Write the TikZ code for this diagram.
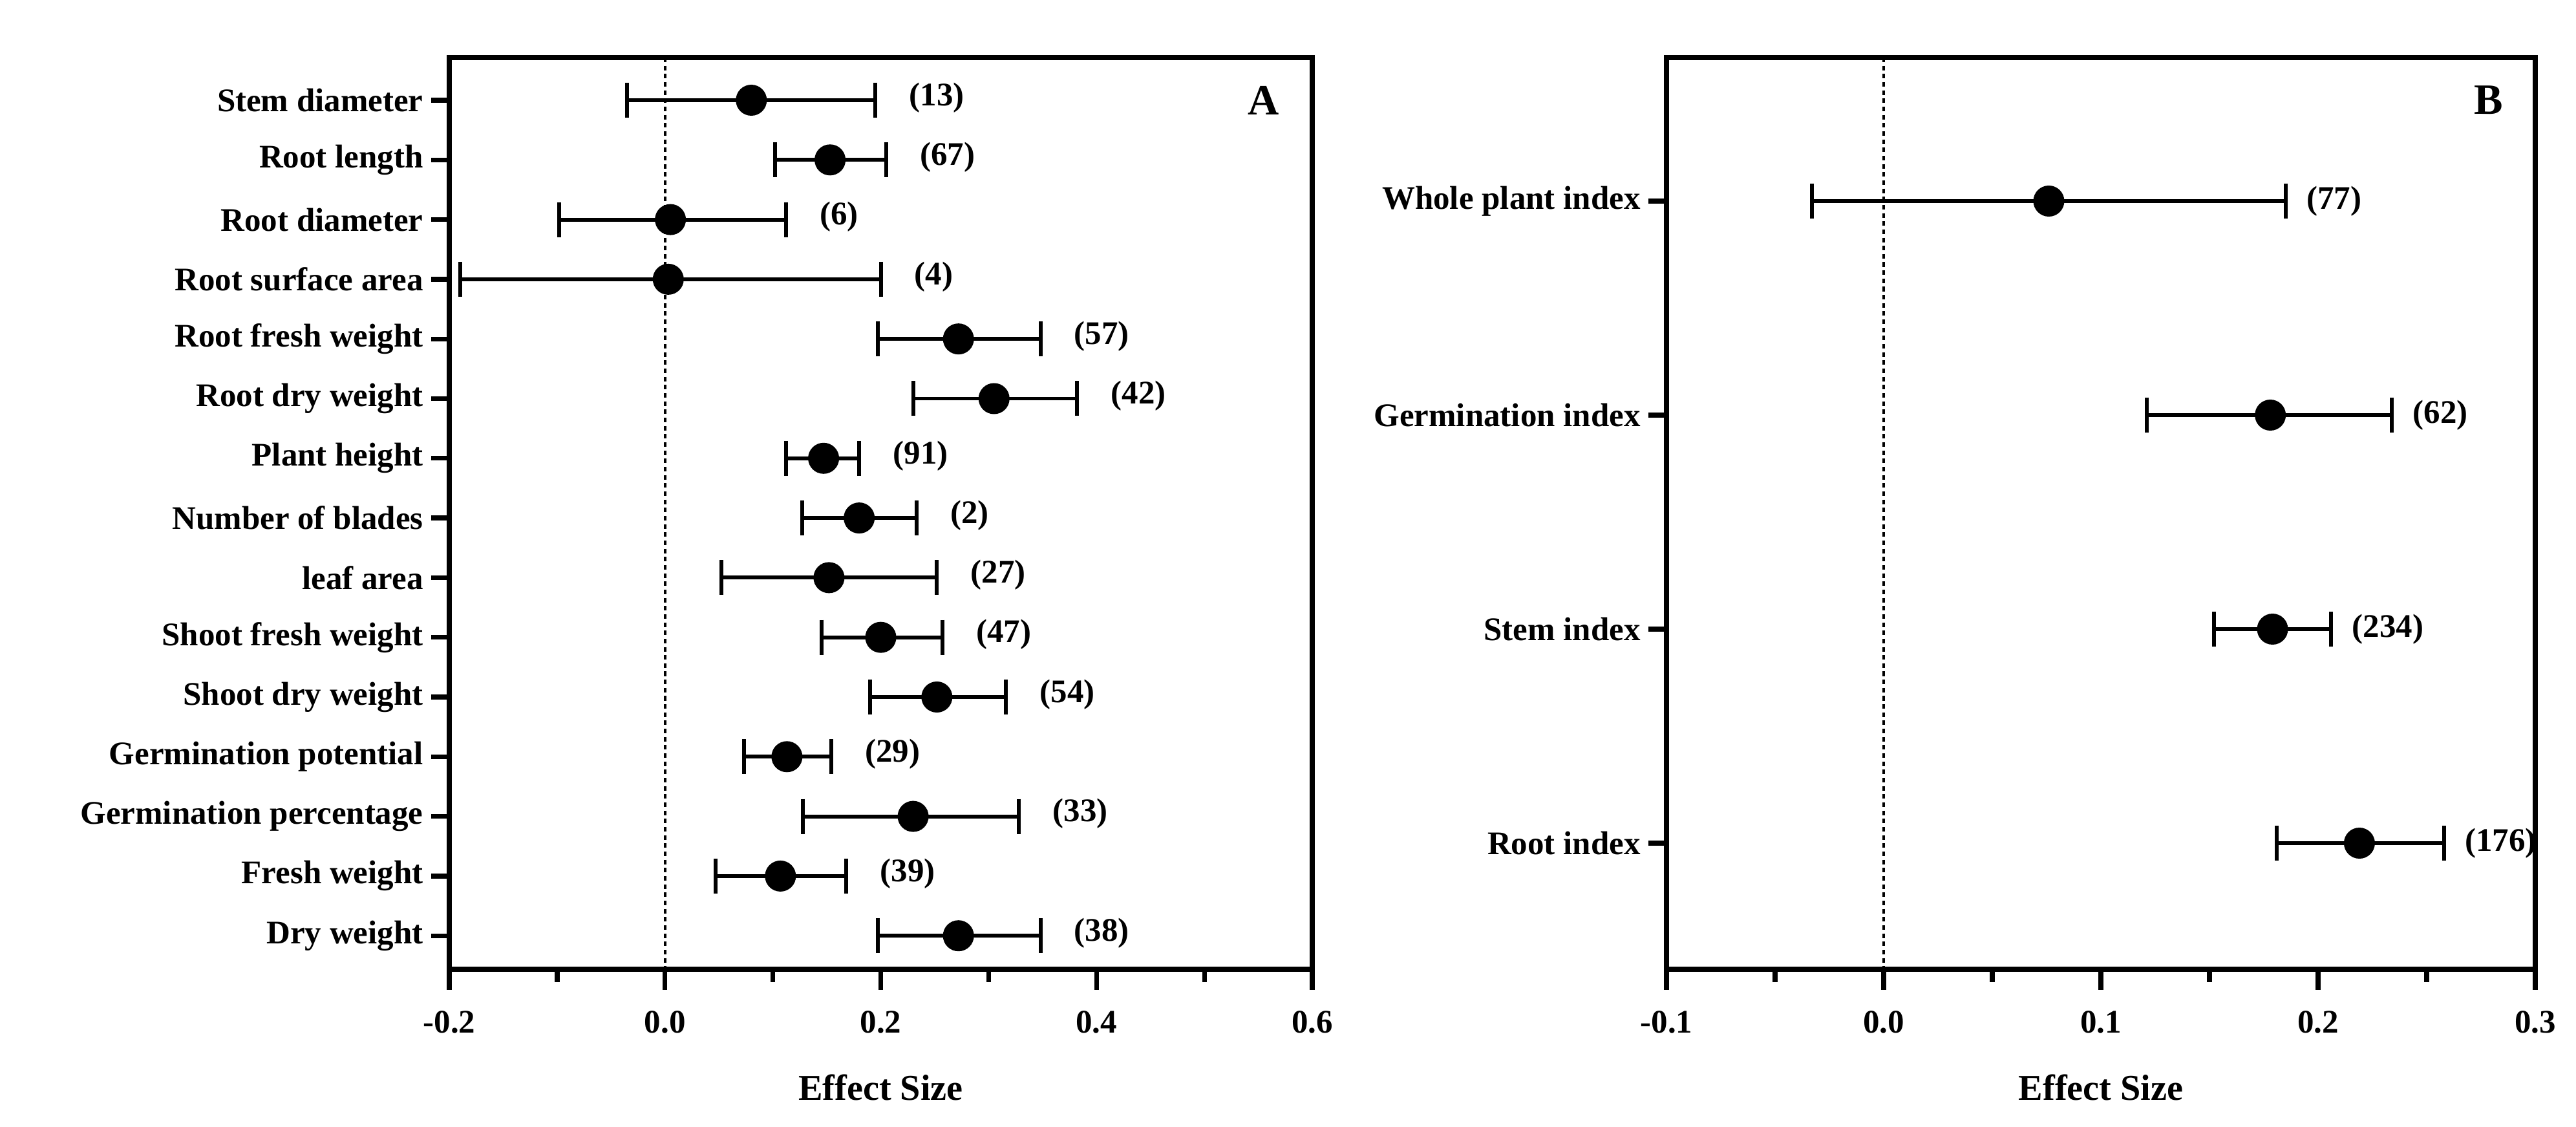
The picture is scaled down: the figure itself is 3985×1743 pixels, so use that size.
\documentclass[tikz,border=0pt]{standalone}
\usepackage{fontspec}
\setmainfont{Liberation Serif}
\begin{document}
\begin{tikzpicture}[x=0.01cm,y=-0.01cm,
  lbl/.style={font=\fontsize{14.5}{17}\selectfont\bfseries},
  axlw/.style={line width=2.1pt},
  barlw/.style={line width=1.7pt}]
\useasboundingbox (0,0) rectangle (3985,1743);
% ---------- Panel A ----------
\def\AL{695}\def\AR{2030}\def\AT{89}\def\AB{1499}
\pgfmathsetmacro{\As}{(\AR-\AL)/0.8}
\draw[axlw] (\AL,\AT) rectangle (\AR,\AB);
\draw[line width=1.1pt,dash pattern=on 2pt off 1.6pt] ({\AL+0.2*\As},\AT) -- ({\AL+0.2*\As},\AB);
\foreach \v/\t in {-0.2/-0.2,0.0/0.0,0.2/0.2,0.4/0.4,0.6/0.6}{
  \pgfmathsetmacro{\xx}{\AL+(\v+0.2)*\As}
  \draw[axlw] (\xx,\AB) -- (\xx,\AB+32);
  \node[lbl] at (\xx,1581) {\t};}
\foreach \v in {-0.1,0.1,0.3,0.5}{
  \pgfmathsetmacro{\xx}{\AL+(\v+0.2)*\As}
  \draw[axlw] (\xx,\AB) -- (\xx,\AB+20);}
\node[lbl,font=\fontsize{16}{19}\selectfont\bfseries] at ({\AL+0.4*\As},1682) {Effect Size};
\node[lbl,font=\fontsize{19}{21}\selectfont\bfseries] at (1955,155) {A};
\foreach \name/\m/\lo/\hi/\n [count=\i from 0] in {
 Stem diameter/0.08/-0.035/0.195/13,
 Root length/0.153/0.102/0.205/67,
 Root diameter/0.005/-0.098/0.112/6,
 Root surface area/0.003/-0.19/0.2/4,
 Root fresh weight/0.272/0.197/0.348/57,
 Root dry weight/0.305/0.23/0.382/42,
 Plant height/0.147/0.112/0.18/91,
 Number of blades/0.18/0.127/0.233/2,
 leaf area/0.152/0.052/0.252/27,
 Shoot fresh weight/0.2/0.145/0.257/47,
 Shoot dry weight/0.252/0.19/0.316/54,
 Germination potential/0.113/0.073/0.154/29,
 Germination percentage/0.23/0.128/0.328/33,
 Fresh weight/0.107/0.047/0.168/39,
 Dry weight/0.272/0.197/0.348/38}{
  \pgfmathsetmacro{\yy}{155+\i*92.3}
  \pgfmathsetmacro{\xl}{\AL+(\lo+0.2)*\As}
  \pgfmathsetmacro{\xh}{\AL+(\hi+0.2)*\As}
  \pgfmathsetmacro{\xm}{\AL+(\m+0.2)*\As}
  \draw[axlw] (\AL-28,\yy) -- (\AL,\yy);
  \node[lbl,anchor=east] at (\AL-28,\yy) {\name};
  \draw[barlw] (\xl,\yy) -- (\xh,\yy);
  \draw[barlw] (\xl,\yy-27) -- (\xl,\yy+27);
  \draw[barlw] (\xh,\yy-27) -- (\xh,\yy+27);
  \fill (\xm,\yy) circle (24);
  \node[lbl,anchor=west] at (\xh+40,\yy-4) {(\n)};}
% ---------- Panel B ----------
\def\BL{2578}\def\BR{3922}
\pgfmathsetmacro{\Bs}{(\BR-\BL)/0.4}
\draw[axlw] (\BL,\AT) rectangle (\BR,\AB);
\draw[line width=1.1pt,dash pattern=on 2pt off 1.6pt] ({\BL+0.1*\Bs},\AT) -- ({\BL+0.1*\Bs},\AB);
\foreach \v/\t in {-0.1/-0.1,0.0/0.0,0.1/0.1,0.2/0.2,0.3/0.3}{
  \pgfmathsetmacro{\xx}{\BL+(\v+0.1)*\Bs}
  \draw[axlw] (\xx,\AB) -- (\xx,\AB+32);
  \node[lbl] at (\xx,1581) {\t};}
\foreach \v in {-0.05,0.05,0.15,0.25}{
  \pgfmathsetmacro{\xx}{\BL+(\v+0.1)*\Bs}
  \draw[axlw] (\xx,\AB) -- (\xx,\AB+20);}
\node[lbl,font=\fontsize{16}{19}\selectfont\bfseries] at ({\BL+0.2*\Bs},1682) {Effect Size};
\node[lbl,font=\fontsize{19}{21}\selectfont\bfseries] at (3850,155) {B};
\foreach \name/\m/\lo/\hi/\n [count=\i from 0] in {
 Whole plant index/0.076/-0.033/0.185/77,
 Germination index/0.178/0.121/0.234/62,
 Stem index/0.179/0.152/0.206/234,
 Root index/0.219/0.181/0.258/176}{
  \pgfmathsetmacro{\yy}{311+\i*331}
  \pgfmathsetmacro{\xl}{\BL+(\lo+0.1)*\Bs}
  \pgfmathsetmacro{\xh}{\BL+(\hi+0.1)*\Bs}
  \pgfmathsetmacro{\xm}{\BL+(\m+0.1)*\Bs}
  \draw[axlw] (\BL-28,\yy) -- (\BL,\yy);
  \node[lbl,anchor=east] at (\BL-28,\yy) {\name};
  \draw[barlw] (\xl,\yy) -- (\xh,\yy);
  \draw[barlw] (\xl,\yy-27) -- (\xl,\yy+27);
  \draw[barlw] (\xh,\yy-27) -- (\xh,\yy+27);
  \fill (\xm,\yy) circle (24);
  \node[lbl,anchor=west] at (\xh+20,\yy) {(\n)};}
\end{tikzpicture}
\end{document}
